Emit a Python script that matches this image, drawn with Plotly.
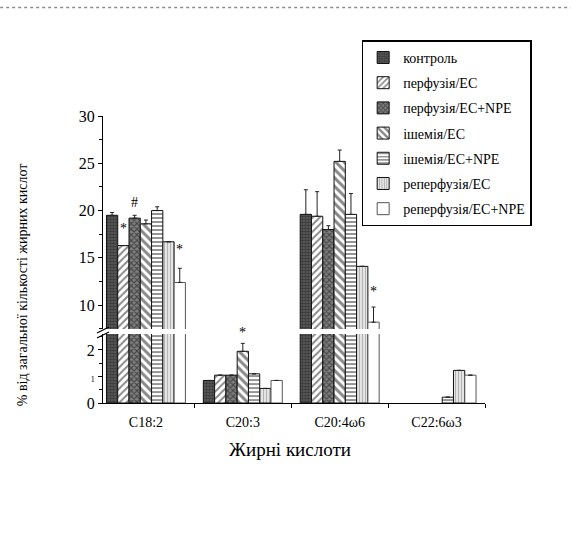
import plotly.graph_objects as go

categories = ["C18:2", "C20:3", "C20:4ω6", "C22:6ω3"]

series_names = ["контроль", "перфузія/ЕС", "перфузія/ЕС+NPE", "ішемія/ЕС",
                "ішемія/ЕС+NPE", "реперфузія/ЕС", "реперфузія/ЕС+NPE"]

kontrol = [19.5, 0.85, 19.6, None]
perf_ec = [16.3, 1.05, 19.4, None]
perf_ec_npe = [19.2, 1.05, 18.0, None]
ish_ec = [18.6, 1.95, 25.2, None]
ish_ec_npe = [20.0, 1.1, 19.6, 0.22]
rep_ec = [16.7, 0.55, 14.1, 1.23]
rep_ec_npe = [12.4, 0.85, 8.2, 1.05]

err_kontrol = [0.3, 0, 2.6, 0]
err_perf_ec = [0, 0, 2.6, 0]
err_perf_ec_npe = [0.3, 0, 0.4, 0]
err_ish_ec = [0.4, 0.3, 1.2, 0]
err_ish_ec_npe = [0.4, 0, 2.2, 0]
err_rep_ec = [0, 0, 0, 0]
err_rep_ec_npe = [1.5, 0, 1.6, 0]

values = [kontrol, perf_ec, perf_ec_npe, ish_ec, ish_ec_npe, rep_ec, rep_ec_npe]
errors = [err_kontrol, err_perf_ec, err_perf_ec_npe, err_ish_ec, err_ish_ec_npe,
          err_rep_ec, err_rep_ec_npe]

# significance marks: (series index, category, value on axis, text)
marks = [(1, "C18:2", 18.1, "*"), (2, "C18:2", 20.9, "#"), (6, "C18:2", 15.9, "*"),
         (6, "C20:4ω6", 11.4, "*")]
low_marks = [(3, "C20:3", 2.5, "*")]

styles = [
    dict(color="#606060", pattern=dict(shape=".", fgcolor="#111111", size=3, solidity=0.6)),
    dict(color="white", pattern=dict(shape="/", fgcolor="#111111", size=5, solidity=0.4)),
    dict(color="#808080", pattern=dict(shape="x", fgcolor="#111111", size=4, solidity=0.5)),
    dict(color="white", pattern=dict(shape="\\", fgcolor="#111111", size=6, solidity=0.5)),
    dict(color="white", pattern=dict(shape="-", fgcolor="#111111", size=4, solidity=0.45)),
    dict(color="#e4e4e4", pattern=dict(shape="|", fgcolor="#808080", size=3, solidity=0.35)),
    dict(color="white", pattern=dict(shape="", fgcolor="#111111")),
]

fig = go.Figure()
for ax_x, ax_y, show in [("x", "y", False), ("x2", "y2", True)]:
    for i, name in enumerate(series_names):
        st = styles[i]
        fig.add_trace(go.Bar(
            x=categories, y=values[i], name=name, xaxis=ax_x, yaxis=ax_y,
            showlegend=show, legendgroup=name,
            marker=dict(color=st["color"], pattern=st["pattern"],
                        line=dict(color="#111111" if i < 6 else "#555555", width=1)),
            error_y=dict(type="data", symmetric=False, array=errors[i],
                         arrayminus=[0] * len(categories), color="#222222",
                         thickness=1, width=2),
        ))

font_family = "Liberation Serif, Times New Roman, serif"
L, R_px, T_px, B_px = 103, 485.5, 115.7, 403
W_plot = R_px - L
H_plot = B_px - T_px

def px_x(p):
    return (p - L) / W_plot

def px_y(p):
    return (B_px - p) / H_plot

bar_px = 11.3
annotations = []
for idx, cat, val, txt in marks:
    annotations.append(dict(x=cat, y=val, xref="x2", yref="y2", text=txt, showarrow=False,
                            xshift=(idx - 3) * bar_px,
                            font=dict(family=font_family, size=14, color="black")))
for idx, cat, val, txt in low_marks:
    annotations.append(dict(x=cat, y=val, xref="x", yref="y", text=txt, showarrow=False,
                            xshift=(idx - 3) * bar_px, yshift=4,
                            font=dict(family=font_family, size=14, color="black")))

annotations.append(dict(x=px_x(22), y=px_y(285), xref="paper", yref="paper",
                        xanchor="center", yanchor="middle",
                        text="% від загальної кількості жирних кислот", textangle=-90,
                        showarrow=False, font=dict(family=font_family, size=14, color="black")))
annotations.append(dict(x=px_x(290), y=px_y(450), xref="paper", yref="paper",
                        xanchor="center", yanchor="middle",
                        text="Жирні кислоти", showarrow=False,
                        font=dict(family=font_family, size=19, color="black")))

shapes = [
    dict(type="line", xref="paper", yref="paper", x0=px_x(97), y0=px_y(333),
         x1=px_x(109), y1=px_y(327), line=dict(color="black", width=1.2)),
    dict(type="line", xref="paper", yref="paper", x0=px_x(97), y0=px_y(338),
         x1=px_x(109), y1=px_y(332), line=dict(color="black", width=1.2)),
    dict(type="line", xref="paper", yref="paper", x0=px_x(0), y0=px_y(7),
         x1=px_x(571), y1=px_y(7), line=dict(color="#8a8a8a", width=1.5, dash="dot")),
]

axis_common = dict(showline=True, linecolor="black", linewidth=1.2, ticks="outside",
                   ticklen=4, tickcolor="black", showgrid=False, zeroline=False,
                   tickfont=dict(family=font_family, size=16, color="black"))

fig.update_layout(
    width=571, height=534,
    margin=dict(l=L, r=571 - R_px, t=T_px, b=534 - B_px),
    paper_bgcolor="white", plot_bgcolor="white",
    barmode="group", bargap=0.185, bargroupgap=0,
    font=dict(family=font_family, color="black"),
    xaxis=dict(domain=[0, 1], anchor="y", type="category", range=[-0.443, 3.5],
               showline=True, linecolor="black", linewidth=1.2, ticks="outside",
               tickson="boundaries", ticklen=4, tickcolor="black", showgrid=False,
               ticklabelstandoff=6,
               tickfont=dict(family=font_family, size=14, color="black")),
    xaxis2=dict(domain=[0, 1], anchor="y2", matches="x", type="category",
                showticklabels=False, showline=False, ticks="", showgrid=False),
    yaxis=dict(domain=[0, px_y(334)], anchor="x", range=[0, 2.6],
               tickvals=[0, 1, 2],
               ticktext=["0", "<span style='font-size:8px'>1</span>", "2"],
               minor=dict(dtick=0.5, ticks="outside", ticklen=3, tickcolor="black"),
               **axis_common),
    yaxis2=dict(domain=[px_y(329), 1], anchor="x2", range=[7.47, 30],
                tickvals=[10, 15, 20, 25, 30],
                minor=dict(dtick=2.5, ticks="outside", ticklen=3, tickcolor="black"),
                **axis_common),
    legend=dict(x=px_x(362), y=px_y(40), xanchor="left", yanchor="top",
                bordercolor="black", borderwidth=1.5, bgcolor="white",
                font=dict(family=font_family, size=14, color="black"),
                tracegroupgap=4, itemwidth=30),
    annotations=annotations,
    shapes=shapes,
)

fig.write_html("out.html")
